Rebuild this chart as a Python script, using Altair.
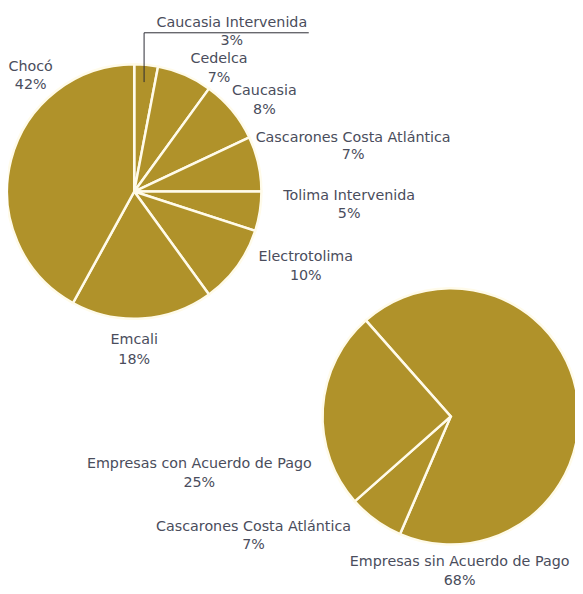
import math
import altair as alt
import pandas as pd

# ---- data ----
pie1_names = ["Caucasia Intervenida", "Cedelca", "Caucasia", "Cascarones Costa Atlántica",
              "Tolima Intervenida", "Electrotolima", "Emcali", "Chocó"]
pie1_values = [3, 7, 8, 7, 5, 10, 18, 42]

pie2_names = ["Empresas sin Acuerdo de Pago", "Cascarones Costa Atlántica", "Empresas con Acuerdo de Pago"]
pie2_values = [68, 7, 25]

# ---- layout (page pixels) ----
MARGIN = 8
W, H = 583 - MARGIN, 594 - MARGIN
GOLD = "#B0922A"
TEXT = "#4a4d5c"
FONT = "DejaVu Sans"
FS = 14.5

pie1_center = (136, 190)
pie1_radius = 129
pie1_start = 0.0
pie2_center = (457, 418)
pie2_radius = 130
pie2_start = math.radians(-41.5)

# label centres (name line, value line) in page pixels
pie1_label_pos = [(235, 19, 37), (222, 56, 75), (268, 88, 107), (358, 136, 153),
                  (354, 195, 213), (310, 256, 276), (136, 341, 361), (31, 64, 82)]
pie2_label_pos = [(466, 566, 585), (257, 530, 549), (202, 466, 486)]

leader = [(146, 79), (146, 29), (313, 29)]


def pie_layer(names, values, center, radius, start):
    df = pd.DataFrame({"name": names, "value": values, "idx": range(len(names))})
    return alt.Chart(df).mark_arc(
        radius=radius, stroke="#FFFBEA", strokeWidth=2.5, color=GOLD
    ).encode(
        theta=alt.Theta("value:Q", stack=True,
                        scale=alt.Scale(range=[start, start + 2 * math.pi])),
        order=alt.Order("idx:Q"),
        x=alt.value(center[0] - MARGIN),
        y=alt.value(center[1] - MARGIN),
    )


def label_df(names, values, pos):
    rows = []
    for n, v, (x, y1, y2) in zip(names, values, pos):
        rows.append({"t": n, "x": x - MARGIN, "y": y1 - MARGIN})
        rows.append({"t": f"{v}%", "x": x - MARGIN, "y": y2 - MARGIN})
    return rows


labels = pd.DataFrame(label_df(pie1_names, pie1_values, pie1_label_pos)
                      + label_df(pie2_names, pie2_values, pie2_label_pos))

text_layer = alt.Chart(labels).mark_text(
    font=FONT, fontSize=FS, color=TEXT, align="center", baseline="middle"
).encode(
    x=alt.X("x:Q", scale=None, axis=None),
    y=alt.Y("y:Q", scale=None, axis=None),
    text="t:N",
)

leader_df = pd.DataFrame({"x": [p[0] - MARGIN for p in leader],
                          "y": [p[1] - MARGIN for p in leader],
                          "o": range(len(leader))})
leader_layer = alt.Chart(leader_df).mark_line(color="#2b2b33", strokeWidth=1).encode(
    x=alt.X("x:Q", scale=None, axis=None),
    y=alt.Y("y:Q", scale=None, axis=None),
    order="o:Q",
)

chart = alt.layer(
    pie_layer(pie1_names, pie1_values, pie1_center, pie1_radius, pie1_start),
    pie_layer(pie2_names, pie2_values, pie2_center, pie2_radius, pie2_start),
    leader_layer,
    text_layer,
).resolve_scale(theta="independent").properties(
    width=W, height=H, autosize=alt.AutoSizeParams(type="none"), padding=0,
    background="white",
).configure_view(stroke=None)

chart.save("out.html", embed_options={"renderer": "svg", "actions": False})
